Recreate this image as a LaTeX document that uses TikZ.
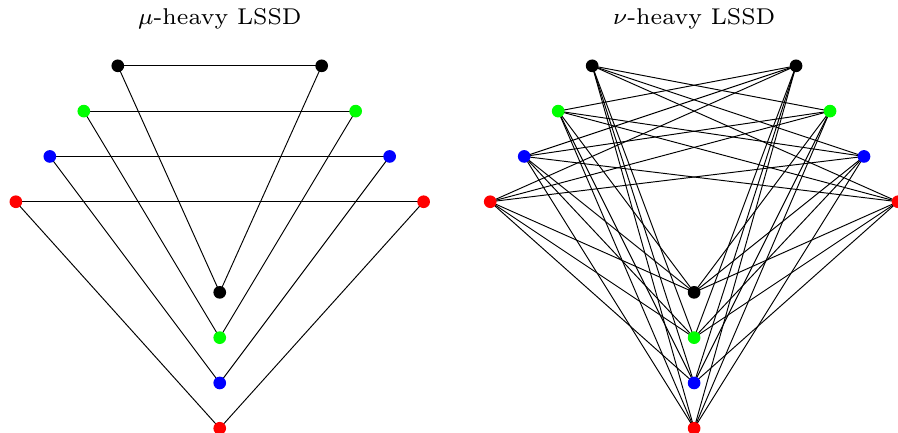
\documentclass[tikz,border=0pt]{standalone}
\usetikzlibrary{backgrounds}
\definecolor{cG}{RGB}{0,255,0}
\definecolor{cB}{RGB}{0,0,255}
\definecolor{cR}{RGB}{255,0,0}
\begin{document}
\begin{tikzpicture}[
  dot/.style={circle,fill=#1,inner sep=0pt,minimum size=0.28cm},
  edge/.style={line width=0.6pt,black},
  title/.style={anchor=base,inner sep=0pt}]
\useasboundingbox (-4.85,-8.084) rectangle (14.97,1.4525);
\node[title] (t1) at (0,0.91) {\scalebox{2.05}{\scriptsize $\mu$-heavy LSSD}};
\node[title] (t2) at (10.47,0.91) {\scalebox{2.05}{\scriptsize $\nu$-heavy LSSD}};
\foreach \c/\col/\i in {0/black/0,1/cG/1,2/cB/2,3/cR/3}{
  \pgfmathsetmacro\w{2.25+0.75*\i}
  \node[dot=\col] (aL\c) at (-\w,-\i) {};
  \node[dot=\col] (aR\c) at (\w,-\i) {};
  \node[dot=\col] (aB\c) at (0,-5-\i) {};
  \node[dot=\col] (bL\c) at (10.47-\w,-\i) {};
  \node[dot=\col] (bR\c) at (10.47+\w,-\i) {};
  \node[dot=\col] (bB\c) at (10.47,-5-\i) {};
}
\begin{pgfonlayer}{background}
\foreach \c in {0,1,2,3}{
  \draw[edge] (aL\c.center) -- (aR\c.center);
  \draw[edge] (aL\c.center) -- (aB\c.center);
  \draw[edge] (aR\c.center) -- (aB\c.center);
  \foreach \d in {0,1,2,3}{
    \ifnum\c=\d\relax\else
      \draw[edge] (bL\c.center) -- (bR\d.center);
      \draw[edge] (bL\c.center) -- (bB\d.center);
      \draw[edge] (bR\c.center) -- (bB\d.center);
    \fi
  }
}
\end{pgfonlayer}
\end{tikzpicture}
\end{document}
